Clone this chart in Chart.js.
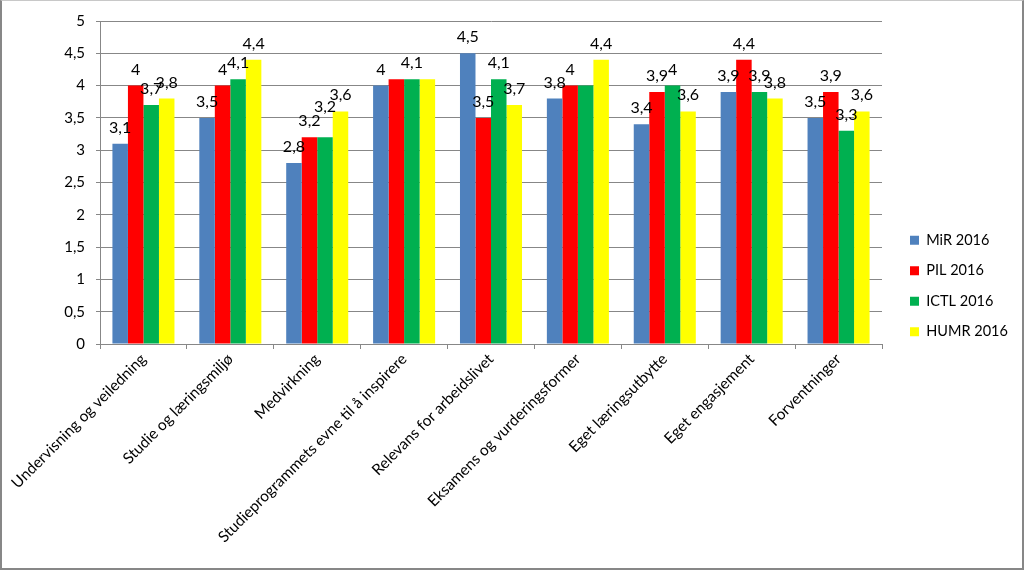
<!DOCTYPE html>
<html><head><meta charset="utf-8">
<script src="https://cdn.jsdelivr.net/npm/chart.js@4.4.0/dist/chart.umd.min.js"></script>
<style>
html,body{margin:0;padding:0;background:#fff;}
#wrap{position:absolute;left:0;top:0;width:1024px;height:570px;box-sizing:border-box;border:2px solid #878787;border-top:1px solid #c8c8c8;}
canvas{display:block;}
</style></head><body>
<div id="wrap"><canvas id="c" width="1020" height="567"></canvas></div>
<script>
const categories = [
  'Undervisning og veiledning',
  'Studie og læringsmiljø',
  'Medvirkning',
  'Studieprogrammets evne til å inspirere',
  'Relevans for arbeidslivet',
  'Eksamens og vurderingsformer',
  'Eget læringsutbytte',
  'Eget engasjement',
  'Forventninger'
];
const seriesNames = ['MiR 2016', 'PIL 2016', 'ICTL 2016', 'HUMR 2016'];
const mir  = [3.1, 3.5, 2.8, 4.0, 4.5, 3.8, 3.4, 3.9, 3.5];
const pil  = [4.0, 4.0, 3.2, 4.1, 3.5, 4.0, 3.9, 4.4, 3.9];
const ictl = [3.7, 4.1, 3.2, 4.1, 4.1, 4.0, 4.0, 3.9, 3.3];
const humr = [3.8, 4.4, 3.6, 4.1, 3.7, 4.4, 3.6, 3.8, 3.6];
const yMin = 0, yMax = 5, yStep = 0.5;
// value labels not shown in the original: [categoryIndex, seriesIndex]
const hiddenLabels = [[3, 1], [3, 3], [5, 2]];
// labels moved up in the original: [categoryIndex, seriesIndex, extra pixels]
const raisedLabels = [[2, 2, 14]];

const colors = ['#4F81BD', '#FF0000', '#00B050', '#FFFF00'];
const FONT = 'Lato, "Liberation Sans", sans-serif';
const fmt = v => String(v).replace('.', ',');

const valueLabels = {
  id: 'valueLabels',
  afterDatasetsDraw(chart) {
    const ctx = chart.ctx;
    ctx.save();
    ctx.font = '16px ' + FONT;
    ctx.fillStyle = '#000';
    ctx.textAlign = 'center';
    ctx.textBaseline = 'alphabetic';
    chart.data.datasets.forEach((ds, di) => {
      const meta = chart.getDatasetMeta(di);
      meta.data.forEach((bar, i) => {
        if (hiddenLabels.some(h => h[0] === i && h[1] === di)) return;
        const r = raisedLabels.find(h => h[0] === i && h[1] === di);
        ctx.fillText(fmt(ds.data[i]), bar.x, bar.y - 11 - (r ? r[2] : 0));
      });
    });
    ctx.restore();
  }
};

const legendFit = {
  id: 'legendFit',
  beforeInit(chart) {
    const lg = chart.legend;
    const orig = lg.fit;
    lg.fit = function () { orig.call(this); this.width = 140; };
  },
  afterLayout(chart) {
    const lg = chart.legend;
    lg.left += 12;
    lg.top -= 8;
    lg.bottom -= 8;
  }
};

const seriesData = [mir, pil, ictl, humr];
new Chart(document.getElementById('c'), {
  type: 'bar',
  data: {
    labels: categories,
    datasets: seriesData.map((d, i) => ({
      label: seriesNames[i],
      data: d,
      backgroundColor: colors[i],
      borderWidth: 0,
      categoryPercentage: 0.714,
      barPercentage: 1.0
    }))
  },
  options: {
    responsive: false,
    animation: false,
    layout: { padding: { top: 19, right: 0, left: 0, bottom: 0 } },
    plugins: {
      legend: {
        position: 'right',
        labels: {
          boxWidth: 9, boxHeight: 9, padding: 16,
          color: '#000',
          font: { family: FONT, size: 14.5 }
        }
      },
      tooltip: { enabled: false }
    },
    scales: {
      x: {
        grid: { drawOnChartArea: false, color: '#878787', tickLength: 5, offset: true },
        border: { color: '#878787' },
        ticks: {
          maxRotation: 45, minRotation: 45, autoSkip: false,
          color: '#000', font: { family: FONT, size: 15.4 }, padding: 1
        },
        afterFit(s) { s.height = 224; }
      },
      y: {
        min: yMin, max: yMax,
        grid: { color: '#878787', tickLength: 4 },
        border: { color: '#878787' },
        ticks: {
          stepSize: yStep, color: '#000', padding: 11,
          font: { family: FONT, size: 15 },
          callback: v => fmt(v)
        },
        afterFit(s) { s.width = 98; }
      }
    }
  },
  plugins: [valueLabels, legendFit]
});
</script>
</body></html>
